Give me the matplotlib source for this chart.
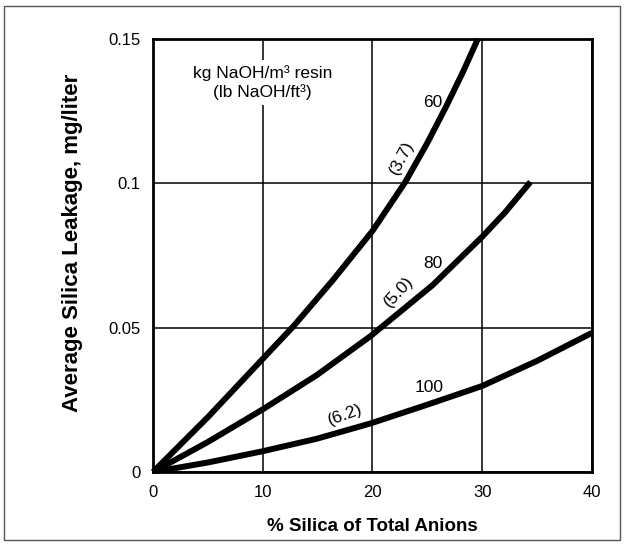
import matplotlib
matplotlib.use("Agg")
import matplotlib.pyplot as plt
from matplotlib.patches import Rectangle

plt.rcParams['font.family'] = ['Liberation Sans', 'DejaVu Sans']

# curve data (x = % silica, y = mg/liter)
x_60 = [0, 5, 10, 12.8, 16.4, 20, 23, 25, 26.7, 28.3, 29.6]
y_60 = [0, 0.019, 0.0392, 0.0505, 0.0665, 0.0835, 0.1005, 0.114, 0.1265, 0.139, 0.150]

x_80 = [0, 5, 10, 14.9, 19.8, 25.5, 30, 32.1, 34.4]
y_80 = [0, 0.0104, 0.0217, 0.0335, 0.047, 0.0648, 0.0815, 0.090, 0.1005]

x_100 = [0, 5, 10, 14.9, 19.8, 24.9, 30, 35, 40]
y_100 = [0, 0.0033, 0.0072, 0.0115, 0.0168, 0.0232, 0.0298, 0.0385, 0.0482]

xticks = [0, 10, 20, 30, 40]
yticks = [0, 0.05, 0.1, 0.15]
ytick_labels = ['0', '0.05', '0.1', '0.15']

fig = plt.figure(figsize=(6.27, 5.46), dpi=100)
ax = fig.add_axes([0.244, 0.1355, 0.700, 0.793])

# frame around whole figure
fig.patches.append(Rectangle((4/627, 1 - 540/546), 616/627, 534/546,
                             transform=fig.transFigure, fill=False,
                             edgecolor='#555555', linewidth=1))

ax.set_xlim(0, 40)
ax.set_ylim(0, 0.15)
ax.set_xticks(xticks)
ax.set_yticks(yticks)
ax.set_yticklabels(ytick_labels)
ax.tick_params(length=0, labelsize=12, pad=9)
ax.grid(True, color='black', linewidth=1.1)
ax.set_axisbelow(True)
for s in ax.spines.values():
    s.set_linewidth(2)

lw = 4.3
ax.plot(x_60, y_60, color='black', lw=lw, solid_capstyle='butt', clip_on=False)
ax.plot(x_80, y_80, color='black', lw=lw, solid_capstyle='butt')
ax.plot(x_100, y_100, color='black', lw=lw, solid_capstyle='butt')

ax.text(10, 0.135, 'kg NaOH/m³ resin\n(lb NaOH/ft³)', ha='center', va='center',
        fontsize=12.5, linespacing=1.2,
        bbox=dict(facecolor='white', edgecolor='none', pad=4))

ax.text(25.5, 0.128, '60', fontsize=12.5, ha='center', va='center')
ax.text(22.7, 0.109, '(3.7)', fontsize=12.5, ha='center', va='center', rotation=62)
ax.text(25.5, 0.0723, '80', fontsize=12.5, ha='center', va='center')
ax.text(22.4, 0.0625, '(5.0)', fontsize=12.5, ha='center', va='center', rotation=47)
ax.text(25.2, 0.0293, '100', fontsize=12.5, ha='center', va='center')
ax.text(17.5, 0.0197, '(6.2)', fontsize=12.5, ha='center', va='center', rotation=20)

ax.set_xlabel('% Silica of Total Anions', fontsize=13.5, fontweight='bold', labelpad=13)
ax.set_ylabel('Average Silica Leakage, mg/liter', fontsize=16, fontweight='bold')
ax.yaxis.set_label_coords(-0.16, 0.53)

fig.savefig('out.png', dpi=100)
